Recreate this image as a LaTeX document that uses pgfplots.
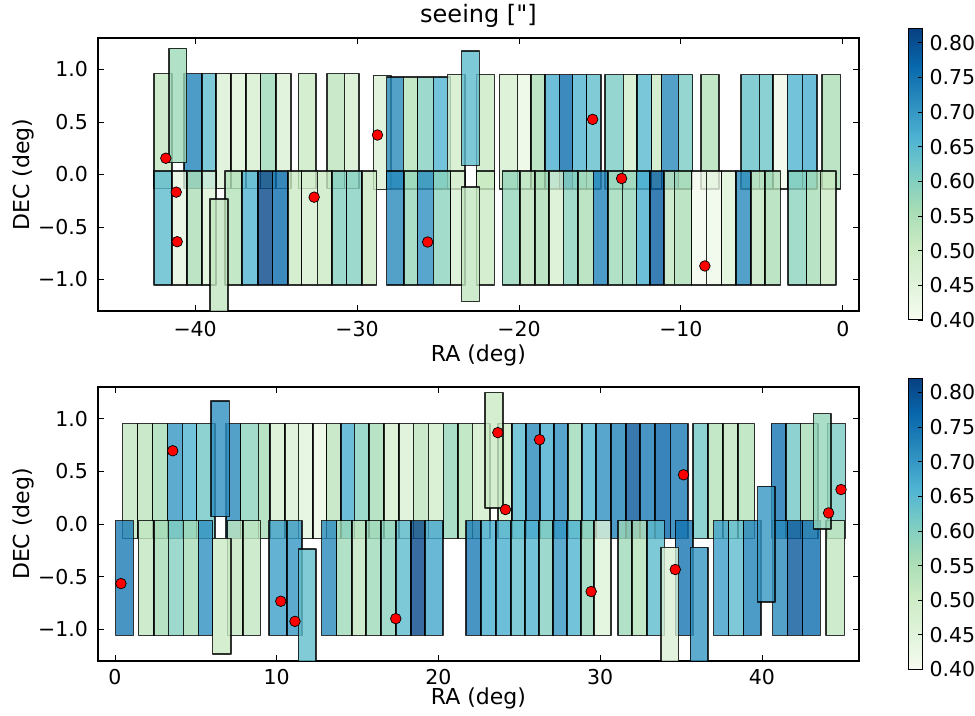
\documentclass[border=0pt]{standalone}
\usepackage{fontspec}
\setmainfont{DejaVu Sans}[Ligatures=TeXOff]
\usepackage{pgfplots}
\pgfplotsset{compat=1.18}

% GnBu colour scale for the seeing values
\pgfplotsset{
  colormap={gnbu}{rgb255=(247,252,240) rgb255=(224,243,219) rgb255=(204,235,197)
    rgb255=(168,221,181) rgb255=(123,204,196) rgb255=(78,179,211)
    rgb255=(43,140,190) rgb255=(8,104,172) rgb255=(8,64,129)},
  field/.style={
    scale only axis, width=761bp,
    ymin=-1.3, ymax=1.3,
    ytick={-1,-0.5,0,0.5,1},
    yticklabels={−1.0,−0.5,0.0,0.5,1.0},
    tick align=inside, major tick length=6bp,
    tick style={black, line width=0.8bp},
    axis line style={line width=1.1bp},
    yticklabel style={xshift=-3bp},
    xlabel={RA (deg)}, ylabel={DEC (deg)},
    label style={font=\fontsize{22bp}{26bp}\selectfont},
    % the label is already turned by 90 degrees, so yshift moves it to the left
    ylabel style={at={(axis description cs:0,0.5)}, anchor=base, yshift=68bp},
    colormap name=gnbu, point meta min=0.40, point meta max=0.82,
    colorbar,
    colorbar style={
      scale only axis, width=14bp, height=291bp,
      at={(parent axis.east)}, anchor=west, xshift=41bp,
      title={}, xlabel={}, ylabel={},
      ytick={0.40,0.45,0.50,0.55,0.60,0.65,0.70,0.75,0.80},
      yticklabels={0.40,0.45,0.50,0.55,0.60,0.65,0.70,0.75,0.80},
      ytick pos=right, yticklabel pos=right,
      yticklabel style={xshift=0bp},
      tick align=inside, major tick length=5bp,
      axis line style={line width=1bp},
    },
  },
  tile/.style={patch, patch type=rectangle, shader=faceted, faceted color=black,
    line width=1.5bp, fill opacity=0.8, draw opacity=0.8, point meta=explicit},
  star/.style={only marks, mark=*, mark size=5.3bp,
    mark options={fill=red, draw=black, line width=0.7bp}},
}

\begin{document}
\fontsize{20.5bp}{24bp}\selectfont
\begin{tikzpicture}
\path[use as bounding box] (0,0) rectangle (975bp,716bp);

% ---------------- southern strip, RA < 0 ----------------
\begin{axis}[field, at={(98bp,405bp)}, anchor=south west, height=273bp,
  xmin=-46, xmax=1,
  xtick={-40,-30,-20,-10,0}, xticklabels={−40,−30,−20,−10,0},
  xticklabel style={yshift=-3bp},
  xlabel style={at={(axis description cs:0.5,0)}, anchor=base, yshift=-50.5bp},
  title={seeing ["]},
  title style={font=\fontsize{24bp}{28bp}\selectfont, at={(axis description cs:0.5,1)}, anchor=base, yshift=9.5bp}]
% upper row of pointings
\addplot[tile] coordinates {
(-42.53,-0.135)[0.52] (-41.44,-0.135)[0.52] (-41.44,0.960)[0.52] (-42.53,0.960)[0.52]
(-40.70,-0.135)[0.73] (-39.59,-0.135)[0.73] (-39.59,0.960)[0.73] (-40.70,0.960)[0.73]
(-39.59,-0.135)[0.645] (-38.70,-0.135)[0.645] (-38.70,0.960)[0.645] (-39.59,0.960)[0.645]
(-38.70,-0.135)[0.47] (-37.78,-0.135)[0.47] (-37.78,0.960)[0.47] (-38.70,0.960)[0.47]
(-37.78,-0.135)[0.46] (-36.87,-0.135)[0.46] (-36.87,0.960)[0.46] (-37.78,0.960)[0.46]
(-36.87,-0.135)[0.48] (-35.95,-0.135)[0.48] (-35.95,0.960)[0.48] (-36.87,0.960)[0.48]
(-35.95,-0.135)[0.57] (-35.00,-0.135)[0.57] (-35.00,0.960)[0.57] (-35.95,0.960)[0.57]
(-35.00,-0.135)[0.47] (-34.09,-0.135)[0.47] (-34.09,0.960)[0.47] (-35.00,0.960)[0.47]
(-33.62,-0.135)[0.51] (-32.53,-0.135)[0.51] (-32.53,0.960)[0.51] (-33.62,0.960)[0.51]
(-31.87,-0.135)[0.53] (-30.78,-0.135)[0.53] (-30.78,0.960)[0.53] (-31.87,0.960)[0.53]
(-30.78,-0.135)[0.48] (-29.88,-0.135)[0.48] (-29.88,0.960)[0.48] (-30.78,0.960)[0.48]
(-28.99,-0.143)[0.47] (-27.90,-0.143)[0.47] (-27.90,0.943)[0.47] (-28.99,0.943)[0.47]
(-28.17,-0.140)[0.72] (-27.14,-0.140)[0.72] (-27.14,0.927)[0.72] (-28.17,0.927)[0.72]
(-27.14,-0.140)[0.54] (-26.26,-0.140)[0.54] (-26.26,0.927)[0.54] (-27.14,0.927)[0.54]
(-26.26,-0.140)[0.60] (-25.29,-0.140)[0.60] (-25.29,0.927)[0.60] (-26.26,0.927)[0.60]
(-25.29,-0.140)[0.66] (-24.22,-0.140)[0.66] (-24.22,0.927)[0.66] (-25.29,0.927)[0.66]
(-24.42,-0.140)[0.49] (-23.33,-0.140)[0.49] (-23.33,0.952)[0.49] (-24.42,0.952)[0.49]
(-22.61,-0.140)[0.51] (-21.52,-0.140)[0.51] (-21.52,0.952)[0.51] (-22.61,0.952)[0.51]
(-21.21,-0.140)[0.48] (-20.10,-0.140)[0.48] (-20.10,0.952)[0.48] (-21.21,0.952)[0.48]
(-20.10,-0.140)[0.43] (-19.26,-0.140)[0.43] (-19.26,0.952)[0.43] (-20.10,0.952)[0.43]
(-19.26,-0.140)[0.55] (-18.40,-0.140)[0.55] (-18.40,0.952)[0.55] (-19.26,0.952)[0.55]
(-18.40,-0.140)[0.67] (-17.51,-0.140)[0.67] (-17.51,0.952)[0.67] (-18.40,0.952)[0.67]
(-17.51,-0.140)[0.76] (-16.69,-0.140)[0.76] (-16.69,0.952)[0.76] (-17.51,0.952)[0.76]
(-16.69,-0.140)[0.66] (-15.82,-0.140)[0.66] (-15.82,0.952)[0.66] (-16.69,0.952)[0.66]
(-15.82,-0.140)[0.64] (-14.94,-0.140)[0.64] (-14.94,0.952)[0.64] (-15.82,0.952)[0.64]
(-14.69,-0.140)[0.61] (-13.56,-0.140)[0.61] (-13.56,0.952)[0.61] (-14.69,0.952)[0.61]
(-13.56,-0.140)[0.49] (-12.70,-0.140)[0.49] (-12.70,0.952)[0.49] (-13.56,0.952)[0.49]
(-12.70,-0.140)[0.65] (-11.81,-0.140)[0.65] (-11.81,0.952)[0.65] (-12.70,0.952)[0.65]
(-11.81,-0.140)[0.51] (-11.19,-0.140)[0.51] (-11.19,0.952)[0.51] (-11.81,0.952)[0.51]
(-11.19,-0.140)[0.72] (-10.16,-0.140)[0.72] (-10.16,0.952)[0.72] (-11.19,0.952)[0.72]
(-10.16,-0.140)[0.61] (-9.28,-0.140)[0.61] (-9.28,0.952)[0.61] (-10.16,0.952)[0.61]
(-8.77,-0.140)[0.54] (-7.65,-0.140)[0.54] (-7.65,0.952)[0.54] (-8.77,0.952)[0.54]
(-6.30,-0.140)[0.635] (-5.16,-0.140)[0.635] (-5.16,0.952)[0.635] (-6.30,0.952)[0.635]
(-5.16,-0.140)[0.625] (-4.30,-0.140)[0.625] (-4.30,0.952)[0.625] (-5.16,0.952)[0.625]
(-4.30,-0.140)[0.42] (-3.42,-0.140)[0.42] (-3.42,0.952)[0.42] (-4.30,0.952)[0.42]
(-3.42,-0.140)[0.66] (-2.49,-0.140)[0.66] (-2.49,0.952)[0.66] (-3.42,0.952)[0.66]
(-2.49,-0.140)[0.67] (-1.60,-0.140)[0.67] (-1.60,0.952)[0.67] (-2.49,0.952)[0.67]
(-1.28,-0.140)[0.55] (-0.14,-0.140)[0.55] (-0.14,0.952)[0.55] (-1.28,0.952)[0.55]
};
% lower row of pointings
\addplot[tile] coordinates {
(-42.53,-1.052)[0.645] (-41.44,-1.052)[0.645] (-41.44,0.033)[0.645] (-42.53,0.033)[0.645]
(-41.44,-1.052)[0.44] (-40.51,-1.052)[0.44] (-40.51,0.033)[0.44] (-41.44,0.033)[0.44]
(-40.51,-1.052)[0.55] (-39.59,-1.052)[0.55] (-39.59,0.033)[0.55] (-40.51,0.033)[0.55]
(-39.59,-1.052)[0.46] (-38.70,-1.052)[0.46] (-38.70,0.033)[0.46] (-39.59,0.033)[0.46]
(-38.15,-1.052)[0.54] (-37.10,-1.052)[0.54] (-37.10,0.033)[0.54] (-38.15,0.033)[0.54]
(-37.10,-1.052)[0.66] (-36.13,-1.052)[0.66] (-36.13,0.033)[0.66] (-37.10,0.033)[0.66]
(-36.13,-1.052)[0.81] (-35.21,-1.052)[0.81] (-35.21,0.033)[0.81] (-36.13,0.033)[0.81]
(-35.21,-1.052)[0.76] (-34.28,-1.052)[0.76] (-34.28,0.033)[0.76] (-35.21,0.033)[0.76]
(-34.28,-1.052)[0.51] (-33.42,-1.052)[0.51] (-33.42,0.033)[0.51] (-34.28,0.033)[0.51]
(-33.42,-1.052)[0.48] (-32.45,-1.052)[0.48] (-32.45,0.033)[0.48] (-33.42,0.033)[0.48]
(-32.45,-1.052)[0.51] (-31.56,-1.052)[0.51] (-31.56,0.033)[0.51] (-32.45,0.033)[0.51]
(-31.56,-1.052)[0.60] (-30.64,-1.052)[0.60] (-30.64,0.033)[0.60] (-31.56,0.033)[0.60]
(-30.64,-1.052)[0.60] (-29.71,-1.052)[0.60] (-29.71,0.033)[0.60] (-30.64,0.033)[0.60]
(-29.71,-1.052)[0.51] (-28.79,-1.052)[0.51] (-28.79,0.033)[0.51] (-29.71,0.033)[0.51]
(-28.17,-1.052)[0.72] (-27.10,-1.052)[0.72] (-27.10,0.033)[0.72] (-28.17,0.033)[0.72]
(-27.10,-1.052)[0.58] (-26.26,-1.052)[0.58] (-26.26,0.033)[0.58] (-27.10,0.033)[0.58]
(-26.26,-1.052)[0.71] (-25.29,-1.052)[0.71] (-25.29,0.033)[0.71] (-26.26,0.033)[0.71]
(-25.29,-1.052)[0.59] (-24.22,-1.052)[0.59] (-24.22,0.033)[0.59] (-25.29,0.033)[0.59]
(-24.22,-1.052)[0.48] (-23.33,-1.052)[0.48] (-23.33,0.033)[0.48] (-24.22,0.033)[0.48]
(-22.61,-1.052)[0.51] (-21.52,-1.052)[0.51] (-21.52,0.033)[0.51] (-22.61,0.033)[0.51]
(-21.03,-1.052)[0.58] (-19.94,-1.052)[0.58] (-19.94,0.033)[0.58] (-21.03,0.033)[0.58]
(-19.94,-1.052)[0.53] (-19.01,-1.052)[0.53] (-19.01,0.033)[0.53] (-19.94,0.033)[0.53]
(-19.01,-1.052)[0.55] (-18.15,-1.052)[0.55] (-18.15,0.033)[0.55] (-19.01,0.033)[0.55]
(-18.15,-1.052)[0.48] (-17.26,-1.052)[0.48] (-17.26,0.033)[0.48] (-18.15,0.033)[0.48]
(-17.26,-1.052)[0.59] (-16.34,-1.052)[0.59] (-16.34,0.033)[0.59] (-17.26,0.033)[0.59]
(-16.34,-1.052)[0.55] (-15.41,-1.052)[0.55] (-15.41,0.033)[0.55] (-16.34,0.033)[0.55]
(-15.41,-1.052)[0.73] (-14.49,-1.052)[0.73] (-14.49,0.033)[0.73] (-15.41,0.033)[0.73]
(-14.49,-1.052)[0.57] (-13.62,-1.052)[0.57] (-13.62,0.033)[0.57] (-14.49,0.033)[0.57]
(-13.62,-1.052)[0.58] (-12.74,-1.052)[0.58] (-12.74,0.033)[0.58] (-13.62,0.033)[0.58]
(-12.74,-1.052)[0.67] (-11.91,-1.052)[0.67] (-11.91,0.033)[0.67] (-12.74,0.033)[0.67]
(-11.91,-1.052)[0.78] (-11.05,-1.052)[0.78] (-11.05,0.033)[0.78] (-11.91,0.033)[0.78]
(-11.05,-1.052)[0.52] (-10.41,-1.052)[0.52] (-10.41,0.033)[0.52] (-11.05,0.033)[0.52]
(-10.41,-1.052)[0.55] (-9.34,-1.052)[0.55] (-9.34,0.033)[0.55] (-10.41,0.033)[0.55]
(-9.34,-1.052)[0.41] (-8.42,-1.052)[0.41] (-8.42,0.033)[0.41] (-9.34,0.033)[0.41]
(-8.42,-1.052)[0.42] (-7.49,-1.052)[0.42] (-7.49,0.033)[0.42] (-8.42,0.033)[0.42]
(-7.49,-1.052)[0.46] (-6.60,-1.052)[0.46] (-6.60,0.033)[0.46] (-7.49,0.033)[0.46]
(-6.60,-1.052)[0.72] (-5.68,-1.052)[0.72] (-5.68,0.033)[0.72] (-6.60,0.033)[0.72]
(-5.68,-1.052)[0.52] (-4.81,-1.052)[0.52] (-4.81,0.033)[0.52] (-5.68,0.033)[0.52]
(-4.81,-1.052)[0.55] (-3.85,-1.052)[0.55] (-3.85,0.033)[0.55] (-4.81,0.033)[0.55]
(-3.37,-1.052)[0.59] (-2.24,-1.052)[0.59] (-2.24,0.033)[0.59] (-3.37,0.033)[0.59]
(-2.24,-1.052)[0.56] (-1.38,-1.052)[0.56] (-1.38,0.033)[0.56] (-2.24,0.033)[0.56]
(-1.38,-1.052)[0.51] (-0.43,-1.052)[0.51] (-0.43,0.033)[0.51] (-1.38,0.033)[0.51]
};
% pointings shifted off the grid
\addplot[tile] coordinates {
(-41.63,0.114)[0.57] (-40.53,0.114)[0.57] (-40.53,1.202)[0.57] (-41.63,1.202)[0.57]
(-39.07,-1.340)[0.52] (-37.98,-1.340)[0.52] (-37.98,-0.235)[0.52] (-39.07,-0.235)[0.52]
(-23.54,0.088)[0.645] (-22.45,0.088)[0.645] (-22.45,1.174)[0.645] (-23.54,1.174)[0.645]
(-23.54,-1.210)[0.52] (-22.45,-1.210)[0.52] (-22.45,-0.118)[0.52] (-23.54,-0.118)[0.52]
};
% calibration fields
\addplot[star] coordinates {
(-41.81,0.155) (-41.17,-0.168) (-41.11,-0.640) (-32.65,-0.216) (-28.74,0.376)
(-25.64,-0.643) (-15.45,0.525) (-13.66,-0.038) (-8.52,-0.871)
};
\end{axis}

% ---------------- northern strip, RA > 0 ----------------
\begin{axis}[field, at={(98bp,55bp)}, anchor=south west, height=274bp,
  xmin=-1.05, xmax=46,
  xtick={0,10,20,30,40}, xticklabels={0,10,20,30,40},
  xticklabel style={yshift=-1bp},
  xlabel style={at={(axis description cs:0.5,0)}, anchor=base, yshift=-44bp}]
% upper row of pointings
\addplot[tile] coordinates {
(0.47,-0.137)[0.52] (1.40,-0.137)[0.52] (1.40,0.952)[0.52] (0.47,0.952)[0.52]
(1.40,-0.137)[0.53] (2.33,-0.137)[0.53] (2.33,0.952)[0.53] (1.40,0.952)[0.53]
(2.33,-0.137)[0.56] (3.26,-0.137)[0.56] (3.26,0.952)[0.56] (2.33,0.952)[0.56]
(3.26,-0.137)[0.70] (4.16,-0.137)[0.70] (4.16,0.952)[0.70] (3.26,0.952)[0.70]
(4.16,-0.137)[0.66] (5.05,-0.137)[0.66] (5.05,0.952)[0.66] (4.16,0.952)[0.66]
(5.05,-0.137)[0.62] (6.19,-0.137)[0.62] (6.19,0.952)[0.62] (5.05,0.952)[0.62]
(6.85,-0.137)[0.72] (7.77,-0.137)[0.72] (7.77,0.952)[0.72] (6.85,0.952)[0.72]
(7.77,-0.137)[0.59] (8.87,-0.137)[0.59] (8.87,0.952)[0.59] (7.77,0.952)[0.59]
(8.87,-0.137)[0.56] (9.59,-0.137)[0.56] (9.59,0.952)[0.56] (8.87,0.952)[0.56]
(9.59,-0.137)[0.48] (10.52,-0.137)[0.48] (10.52,0.952)[0.48] (9.59,0.952)[0.48]
(10.52,-0.137)[0.47] (11.34,-0.137)[0.47] (11.34,0.952)[0.47] (10.52,0.952)[0.47]
(11.34,-0.137)[0.45] (12.23,-0.137)[0.45] (12.23,0.952)[0.45] (11.34,0.952)[0.45]
(12.23,-0.137)[0.43] (13.09,-0.137)[0.43] (13.09,0.952)[0.43] (12.23,0.952)[0.43]
(13.09,-0.137)[0.53] (13.96,-0.137)[0.53] (13.96,0.952)[0.53] (13.09,0.952)[0.53]
(13.96,-0.137)[0.67] (14.80,-0.137)[0.67] (14.80,0.952)[0.67] (13.96,0.952)[0.67]
(14.80,-0.137)[0.60] (15.71,-0.137)[0.60] (15.71,0.952)[0.60] (14.80,0.952)[0.60]
(15.71,-0.137)[0.56] (16.64,-0.137)[0.56] (16.64,0.952)[0.56] (15.71,0.952)[0.56]
(16.64,-0.137)[0.48] (17.57,-0.137)[0.48] (17.57,0.952)[0.48] (16.64,0.952)[0.48]
(17.57,-0.137)[0.47] (18.45,-0.137)[0.47] (18.45,0.952)[0.47] (17.57,0.952)[0.47]
(18.45,-0.137)[0.53] (19.38,-0.137)[0.53] (19.38,0.952)[0.53] (18.45,0.952)[0.53]
(19.38,-0.137)[0.49] (20.31,-0.137)[0.49] (20.31,0.952)[0.49] (19.38,0.952)[0.49]
(20.31,-0.137)[0.58] (21.20,-0.137)[0.58] (21.20,0.952)[0.58] (20.31,0.952)[0.58]
(21.20,-0.137)[0.54] (22.10,-0.137)[0.54] (22.10,0.952)[0.54] (21.20,0.952)[0.54]
(22.10,-0.137)[0.49] (23.20,-0.137)[0.49] (23.20,0.952)[0.49] (22.10,0.952)[0.49]
(23.67,-0.137)[0.50] (24.54,-0.137)[0.50] (24.54,0.952)[0.50] (23.67,0.952)[0.50]
(24.54,-0.137)[0.65] (25.40,-0.137)[0.65] (25.40,0.952)[0.65] (24.54,0.952)[0.65]
(25.40,-0.137)[0.72] (26.29,-0.137)[0.72] (26.29,0.952)[0.72] (25.40,0.952)[0.72]
(26.29,-0.137)[0.67] (27.15,-0.137)[0.67] (27.15,0.952)[0.67] (26.29,0.952)[0.67]
(27.15,-0.137)[0.71] (28.00,-0.137)[0.71] (28.00,0.952)[0.71] (27.15,0.952)[0.71]
(28.00,-0.137)[0.57] (28.87,-0.137)[0.57] (28.87,0.952)[0.57] (28.00,0.952)[0.57]
(28.87,-0.137)[0.66] (29.75,-0.137)[0.66] (29.75,0.952)[0.66] (28.87,0.952)[0.66]
(29.75,-0.137)[0.71] (30.68,-0.137)[0.71] (30.68,0.952)[0.71] (29.75,0.952)[0.71]
(30.68,-0.137)[0.73] (31.59,-0.137)[0.73] (31.59,0.952)[0.73] (30.68,0.952)[0.73]
(31.59,-0.137)[0.79] (32.47,-0.137)[0.79] (32.47,0.952)[0.79] (31.59,0.952)[0.79]
(32.47,-0.137)[0.74] (33.40,-0.137)[0.74] (33.40,0.952)[0.74] (32.47,0.952)[0.74]
(33.40,-0.137)[0.77] (34.33,-0.137)[0.77] (34.33,0.952)[0.77] (33.40,0.952)[0.77]
(34.33,-0.137)[0.74] (35.42,-0.137)[0.74] (35.42,0.952)[0.74] (34.33,0.952)[0.74]
(35.73,-0.137)[0.62] (36.66,-0.137)[0.62] (36.66,0.952)[0.62] (35.73,0.952)[0.62]
(36.66,-0.137)[0.54] (37.59,-0.137)[0.54] (37.59,0.952)[0.54] (36.66,0.952)[0.54]
(37.59,-0.137)[0.52] (38.52,-0.137)[0.52] (38.52,0.952)[0.52] (37.59,0.952)[0.52]
(38.52,-0.137)[0.54] (39.55,-0.137)[0.54] (39.55,0.952)[0.54] (38.52,0.952)[0.54]
(40.58,-0.137)[0.75] (41.48,-0.137)[0.75] (41.48,0.952)[0.75] (40.58,0.952)[0.75]
(41.48,-0.137)[0.62] (42.37,-0.137)[0.62] (42.37,0.952)[0.62] (41.48,0.952)[0.62]
(42.37,-0.137)[0.56] (43.46,-0.137)[0.56] (43.46,0.952)[0.56] (42.37,0.952)[0.56]
(44.06,-0.137)[0.61] (45.15,-0.137)[0.61] (45.15,0.952)[0.61] (44.06,0.952)[0.61]
};
% lower row of pointings
\addplot[tile] coordinates {
(0.04,-1.057)[0.74] (1.13,-1.057)[0.74] (1.13,0.032)[0.74] (0.04,0.032)[0.74]
(1.44,-1.057)[0.52] (2.41,-1.057)[0.52] (2.41,0.032)[0.52] (1.44,0.032)[0.52]
(2.41,-1.057)[0.56] (3.30,-1.057)[0.56] (3.30,0.032)[0.56] (2.41,0.032)[0.56]
(3.30,-1.057)[0.60] (4.23,-1.057)[0.60] (4.23,0.032)[0.60] (3.30,0.032)[0.60]
(4.23,-1.057)[0.56] (5.15,-1.057)[0.56] (5.15,0.032)[0.56] (4.23,0.032)[0.56]
(5.15,-1.057)[0.71] (6.04,-1.057)[0.71] (6.04,0.032)[0.71] (5.15,0.032)[0.71]
(6.97,-1.057)[0.52] (7.90,-1.057)[0.52] (7.90,0.032)[0.52] (6.97,0.032)[0.52]
(7.90,-1.057)[0.52] (9.01,-1.057)[0.52] (9.01,0.032)[0.52] (7.90,0.032)[0.52]
(9.53,-1.057)[0.69] (10.62,-1.057)[0.69] (10.62,0.032)[0.69] (9.53,0.032)[0.69]
(10.62,-1.057)[0.70] (11.55,-1.057)[0.70] (11.55,0.032)[0.70] (10.62,0.032)[0.70]
(12.78,-1.057)[0.72] (13.71,-1.057)[0.72] (13.71,0.032)[0.72] (12.78,0.032)[0.72]
(13.71,-1.057)[0.57] (14.64,-1.057)[0.57] (14.64,0.032)[0.57] (13.71,0.032)[0.57]
(14.64,-1.057)[0.52] (15.53,-1.057)[0.52] (15.53,0.032)[0.52] (14.64,0.032)[0.52]
(15.53,-1.057)[0.57] (16.45,-1.057)[0.57] (16.45,0.032)[0.57] (15.53,0.032)[0.57]
(16.45,-1.057)[0.59] (17.36,-1.057)[0.59] (17.36,0.032)[0.59] (16.45,0.032)[0.59]
(17.36,-1.057)[0.645] (18.29,-1.057)[0.645] (18.29,0.032)[0.645] (17.36,0.032)[0.645]
(18.29,-1.057)[0.81] (19.18,-1.057)[0.81] (19.18,0.032)[0.81] (18.29,0.032)[0.81]
(19.18,-1.057)[0.68] (20.27,-1.057)[0.68] (20.27,0.032)[0.68] (19.18,0.032)[0.68]
(21.69,-1.057)[0.74] (22.64,-1.057)[0.74] (22.64,0.032)[0.74] (21.69,0.032)[0.74]
(22.64,-1.057)[0.67] (23.55,-1.057)[0.67] (23.55,0.032)[0.67] (22.64,0.032)[0.67]
(23.55,-1.057)[0.67] (24.47,-1.057)[0.67] (24.47,0.032)[0.67] (23.55,0.032)[0.67]
(24.47,-1.057)[0.64] (25.36,-1.057)[0.64] (25.36,0.032)[0.64] (24.47,0.032)[0.64]
(25.36,-1.057)[0.66] (26.23,-1.057)[0.66] (26.23,0.032)[0.66] (25.36,0.032)[0.66]
(26.23,-1.057)[0.60] (27.07,-1.057)[0.60] (27.07,0.032)[0.60] (26.23,0.032)[0.60]
(27.07,-1.057)[0.70] (27.94,-1.057)[0.70] (27.94,0.032)[0.70] (27.07,0.032)[0.70]
(27.94,-1.057)[0.66] (28.80,-1.057)[0.66] (28.80,0.032)[0.66] (27.94,0.032)[0.66]
(28.80,-1.057)[0.58] (29.63,-1.057)[0.58] (29.63,0.032)[0.58] (28.80,0.032)[0.58]
(29.63,-1.057)[0.46] (30.68,-1.057)[0.46] (30.68,0.032)[0.46] (29.63,0.032)[0.46]
(31.09,-1.057)[0.57] (31.96,-1.057)[0.57] (31.96,0.032)[0.57] (31.09,0.032)[0.57]
(31.96,-1.057)[0.54] (32.89,-1.057)[0.54] (32.89,0.032)[0.54] (31.96,0.032)[0.54]
(32.89,-1.057)[0.645] (33.96,-1.057)[0.645] (33.96,0.032)[0.645] (32.89,0.032)[0.645]
(34.64,-1.057)[0.75] (35.73,-1.057)[0.75] (35.73,0.032)[0.75] (34.64,0.032)[0.75]
(37.01,-1.057)[0.69] (37.94,-1.057)[0.69] (37.94,0.032)[0.69] (37.01,0.032)[0.69]
(37.94,-1.057)[0.645] (38.87,-1.057)[0.645] (38.87,0.032)[0.645] (37.94,0.032)[0.645]
(38.87,-1.057)[0.73] (39.94,-1.057)[0.73] (39.94,0.032)[0.73] (38.87,0.032)[0.73]
(40.66,-1.057)[0.72] (41.59,-1.057)[0.72] (41.59,0.032)[0.72] (40.66,0.032)[0.72]
(41.59,-1.057)[0.79] (42.52,-1.057)[0.79] (42.52,0.032)[0.79] (41.59,0.032)[0.79]
(42.52,-1.057)[0.76] (43.61,-1.057)[0.76] (43.61,0.032)[0.76] (42.52,0.032)[0.76]
(43.96,-1.057)[0.52] (45.09,-1.057)[0.52] (45.09,0.032)[0.52] (43.96,0.032)[0.52]
};
% pointings shifted off the grid
\addplot[tile] coordinates {
(5.94,0.070)[0.71] (7.07,0.070)[0.71] (7.07,1.168)[0.71] (5.94,1.168)[0.71]
(6.04,-1.232)[0.51] (7.18,-1.232)[0.51] (7.18,-0.137)[0.51] (6.04,-0.137)[0.51]
(11.34,-1.350)[0.64] (12.43,-1.350)[0.64] (12.43,-0.238)[0.64] (11.34,-0.238)[0.64]
(22.89,0.152)[0.51] (23.98,0.152)[0.51] (23.98,1.248)[0.51] (22.89,1.248)[0.51]
(33.75,-1.350)[0.47] (34.85,-1.350)[0.47] (34.85,-0.222)[0.47] (33.75,-0.222)[0.47]
(35.57,-1.350)[0.70] (36.66,-1.350)[0.70] (36.66,-0.222)[0.70] (35.57,-0.222)[0.70]
(39.73,-0.740)[0.70] (40.82,-0.740)[0.70] (40.82,0.356)[0.70] (39.73,0.356)[0.70]
(43.20,-0.048)[0.58] (44.27,-0.048)[0.58] (44.27,1.048)[0.58] (43.20,1.048)[0.58]
};
% calibration fields
\addplot[star] coordinates {
(0.37,-0.565) (3.57,0.695) (10.25,-0.733) (11.13,-0.924) (17.36,-0.898)
(23.67,0.867) (24.14,0.137) (26.25,0.800) (29.44,-0.641) (34.64,-0.432)
(35.15,0.467) (44.12,0.105) (44.89,0.327)
};
\end{axis}
\end{tikzpicture}
\end{document}
